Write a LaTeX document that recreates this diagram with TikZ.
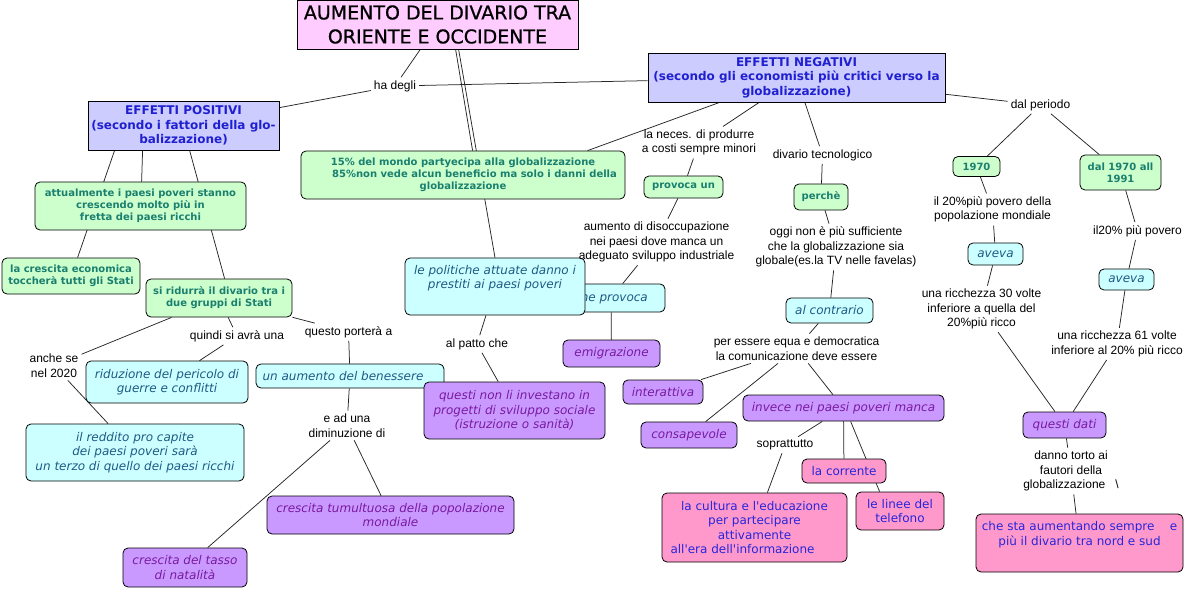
\documentclass[tikz,border=0pt]{standalone}
\usepackage{fontspec}
\setmainfont{Liberation Sans}
\newfontfamily\verd{DejaVu Sans}[ItalicFont={DejaVu Sans Oblique},BoldFont={DejaVu Sans Bold},BoldItalicFont={DejaVu Sans Bold Oblique}]
\newfontfamily\ttlfont{DejaVu Sans}[FakeBold=0.8]
\definecolor{tfill}{HTML}{FFCCFF}
\definecolor{bfill}{HTML}{CCCCFF}
\definecolor{btext}{HTML}{2020D0}
\definecolor{gfill}{HTML}{CCFFCC}
\definecolor{gtext}{HTML}{1A7F6F}
\definecolor{cfill}{HTML}{CCFFFF}
\definecolor{ctext}{HTML}{1F5A85}
\definecolor{pfill}{HTML}{C999FF}
\definecolor{ptext}{HTML}{7A1AA0}
\definecolor{kfill}{HTML}{FF99CC}
\definecolor{ktext}{HTML}{2626D9}
\pgfdeclarelayer{bg}
\pgfsetlayers{bg,main}
\begin{document}
\begin{tikzpicture}[x=1pt,y=-1pt,
  lbl/.style={font=\fontsize{12}{14.5}\selectfont, align=center, inner sep=3pt},
  box/.style={draw=black, line width=0.8pt, rounded corners=5pt, inner sep=1pt, align=center},
  sz/.style 2 args={minimum width=#1pt, minimum height=#2pt},
  tbox/.style={box, sharp corners, fill=tfill, font=\ttlfont\fontsize{19}{24}\selectfont},
  bbox/.style={box, sharp corners, fill=bfill, text=btext, font=\verd\bfseries\fontsize{12}{14.5}\selectfont},
  gbox/.style={box, fill=gfill, text=gtext, font=\verd\bfseries\fontsize{10}{12}\selectfont},
  cbox/.style={box, fill=cfill, text=ctext, font=\verd\itshape\fontsize{12}{14.5}\selectfont},
  pbox/.style={box, fill=pfill, text=ptext, font=\verd\itshape\fontsize{12}{14.5}\selectfont},
  kbox/.style={box, fill=kfill, text=ktext, font=\verd\fontsize{12}{14.5}\selectfont},
  conn/.style={draw=black!85, line width=0.75pt}]
\useasboundingbox (0,0) rectangle (1186,591);

% ---- boxes ----
\node[tbox, sz={281}{49}] (T) at (437.5,24.5) {AUMENTO DEL DIVARIO TRA\\ORIENTE E OCCIDENTE};
\node[bbox, sz={191}{49}] (P) at (183.5,125.5) {EFFETTI POSITIVI\\(secondo i fattori della glo-\\balizzazione)};
\node[bbox, sz={297}{49}] (N) at (796.5,77.5) {EFFETTI NEGATIVI\\(secondo gli economisti più critici verso la\\globalizzazione)};
\node[gbox, sz={324}{48}] (F) at (463,175) {15\% del mondo partyecipa alla globalizzazione\\\kern23pt 85\%non vede alcun beneficio ma solo i danni della\\globalizzazione};
\node[gbox, sz={211}{48}] (A) at (140.5,206) {attualmente i paesi poveri stanno\\crescendo molto più in\\fretta dei paesi ricchi};
\node[gbox, sz={138}{36}] (C) at (71,276) {la crescita economica\\toccherà tutti gli Stati};
\node[gbox, sz={146}{38}] (R) at (219,298) {si ridurrà il divario tra i\\due gruppi di Stati};
\node[cbox, sz={218}{57}] (Re) at (135,452.5) {il reddito pro capite\\dei paesi poveri sarà\\un terzo di quello dei paesi ricchi};
\node[cbox, sz={162}{42}] (Ri) at (167,382) {riduzione del pericolo di\\guerre e conflitti};
\node[cbox, sz={188}{24}] (B) at (350,376) {un aumento del benessere\kern14pt};
\node[pbox, sz={247}{38}] (Tu) at (390.5,515) {crescita tumultuosa della popolazione\\mondiale};
\node[pbox, sz={124}{39}] (Ta) at (185,567.5) {crescita del tasso\\di natalità};
\node[cbox, sz={108}{28}] (CP) at (611,298) {che provoca};
\node[cbox, sz={180}{57}] (Po) at (495,286.5) {le politiche attuate danno i\\prestiti ai paesi poveri\\\strut};
\node[pbox, sz={181}{57}] (I) at (514.5,410.5) {questi non li investano in\\progetti di sviluppo sociale\\(istruzione o sanità)};
\node[gbox, sz={79}{22}] (PU) at (683.5,187) {provoca un};
\node[pbox, sz={97}{27}] (E) at (611.5,353.5) {emigrazione};
\node[gbox, sz={54}{26}] (Pe) at (821,197) {perchè};
\node[cbox, sz={87}{25}] (AC) at (829.5,310.5) {al contrario};
\node[pbox, sz={80}{24}] (In) at (663,392) {interattiva};
\node[pbox, sz={96}{26}] (Co) at (689,435) {consapevole};
\node[pbox, sz={201}{26}] (Iv) at (843.5,408) {invece nei paesi poveri manca};
\node[kbox, sz={185}{69}] (Cu) at (754.5,527.5) {la cultura e l'educazione\\per partecipare\\attivamente\\all'era dell'informazione\kern24pt};
\node[kbox, sz={84}{24}] (Cr) at (844,471) {la corrente};
\node[kbox, sz={88}{38}] (Li) at (900,511) {le linee del\\telefono};
\node[gbox, sz={47}{20}] (Y1) at (976.5,166.5) {1970};
\node[gbox, sz={81}{35}] (Y2) at (1120.5,172.5) {dal 1970 all\\1991};
\node[cbox, sz={55}{22}] (Av1) at (995.5,254) {aveva};
\node[cbox, sz={55}{21}] (Av2) at (1126.5,279.5) {aveva};
\node[pbox, sz={83}{26}] (Q) at (1064.5,425) {questi dati};
\node[kbox, sz={207}{58}] (Cs) at (1079.5,543) {che sta aumentando sempre\ \ \ \ e\\più il divario tra nord e sud\\\strut};

% ---- labels ----
\node[lbl] (l1) at (395,86) {ha degli};
\node[lbl] (l2) at (54,365.5) {anche se\\nel 2020};
\node[lbl] (l3) at (237,336) {quindi si avrà una};
\node[lbl] (l4) at (348.5,332) {questo porterà a};
\node[lbl] (l5) at (347,425.5) {e ad una\\diminuzione di};
\node[lbl] (l6) at (477,344) {al patto che};
\node[lbl] (l7) at (699,142.5) {la neces. di produrre\\a costi sempre minori};
\node[lbl] (l8) at (656.5,242) {aumento di disoccupazione\\nei paesi dove manca un\\adeguato sviluppo industriale};
\node[lbl] (l9) at (822.5,155) {divario tecnologico};
\node[lbl] (l10) at (836,247) {oggi non è più sufficiente\\che la globalizzazione sia\\globale(es.la TV nelle favelas)};
\node[lbl] (l11) at (796.5,348.5) {per essere equa e democratica\\la comunicazione deve essere};
\node[lbl] (l12) at (785,445) {soprattutto};
\node[lbl] (l13) at (1040.5,105) {dal periodo};
\node[lbl] (l14) at (992.5,209.5) {il 20\%più povero della\\popolazione mondiale};
\node[lbl] (l15) at (981.5,309) {una ricchezza 30 volte\\inferiore a quella del\\20\%più ricco};
\node[lbl] (l16) at (1137.5,231) {il20\% più povero};
\node[lbl] (l17) at (1117,344) {una ricchezza 61 volte\\inferiore al 20\% più ricco};
\node[lbl] (l18) at (1071,471) {danno torto ai\\fautori della\\globalizzazione\ \ \ \textbackslash};

% ---- connectors ----
\begin{pgfonlayer}{bg}
\fill[white] (0,0) rectangle (1186,591);
\draw[conn] (T) -- (l1);
\draw[conn] (l1) -- (P);
\draw[conn] (l1) -- (N);
\draw[conn] ([xshift=159pt]T.south west) -- ([xshift=172pt]F.north west);
\draw[conn] ([xshift=162pt]T.south west) -- (Po.north);
\draw[conn] ([xshift=27pt]P.south west) -- ([xshift=76pt]C.north west);
\draw[conn] ([xshift=55pt]P.south west) -- ([xshift=107pt]A.north west);
\draw[conn] ([xshift=102pt]P.south west) -- ([xshift=79pt]R.north west);
\draw[conn] (R) -- (l2);
\draw[conn] (l2) -- (Re);
\draw[conn] (R) -- (l3);
\draw[conn] (l3) -- (Ri);
\draw[conn] (R) -- (l4);
\draw[conn] (l4) -- (B);
\draw[conn] (B) -- (l5);
\draw[conn] (l5) -- (Tu);
\draw[conn] (l5) -- (Ta);
\draw[conn] (Po) -- (l6);
\draw[conn] (l6) -- (I);
\draw[conn] ([xshift=72pt]N.south west) -- ([xshift=287pt]F.north west);
\draw[conn] (N) -- (l7);
\draw[conn] (l7) -- (PU);
\draw[conn] (PU) -- (l8);
\draw[conn] (l8) -- (CP);
\draw[conn] (CP) -- (E);
\draw[conn] (N) -- (l9);
\draw[conn] (l9) -- (Pe);
\draw[conn] (Pe) -- (l10);
\draw[conn] (l10) -- (AC);
\draw[conn] (AC) -- (l11);
\draw[conn] (l11) -- (In);
\draw[conn] (l11) -- (Co);
\draw[conn] (l11) -- (Iv);
\draw[conn] (Iv) -- (l12);
\draw[conn] (l12) -- (Cu);
\draw[conn] (Iv) -- (Cr);
\draw[conn] ([xshift=108pt]Iv.south west) -- ([xshift=24pt]Li.north west);
\draw[conn] (N) -- (l13);
\draw[conn] (l13) -- (Y1);
\draw[conn] (l13) -- (Y2);
\draw[conn] (Y1) -- (l14);
\draw[conn] (l14) -- (Av1);
\draw[conn] (Av1) -- (l15);
\draw[conn] (l15) -- (Q);
\draw[conn] (Y2) -- (l16);
\draw[conn] (l16) -- (Av2);
\draw[conn] (Av2) -- (l17);
\draw[conn] (l17) -- (Q);
\draw[conn] (Q) -- (l18);
\draw[conn] (l18) -- (Cs);
\end{pgfonlayer}
\end{tikzpicture}
\end{document}
